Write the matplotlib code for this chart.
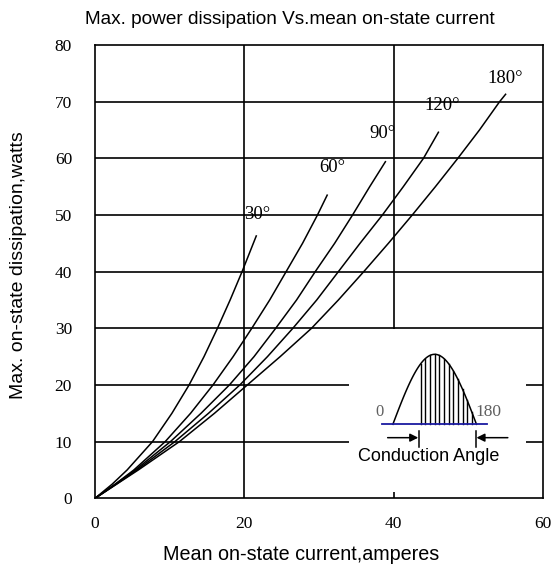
import numpy as np
import matplotlib
matplotlib.use("Agg")
import matplotlib.pyplot as plt
from matplotlib.patches import Rectangle

# curves: mean current (A) vs max dissipation (W)
curr_30 = [0, 2.3, 4.3, 7.7, 10.3, 12.6, 14.6, 16.4, 18.1, 19.7, 21.6]
pow_30 = [0, 2.5, 5, 10, 15, 20, 25, 30, 35, 40, 46.3]
curr_60 = [0, 2.7, 5.2, 9.4, 12.8, 15.8, 18.5, 21.0, 23.4, 25.6, 27.8, 29.8, 31.1]
pow_60 = [0, 2.5, 5, 10, 15, 20, 25, 30, 35, 40, 45, 50, 53.5]
curr_90 = [0, 2.75, 5.4, 10.1, 14.2, 18.0, 21.3, 24.2, 27.0, 29.5, 32.1, 34.5, 36.8, 38.9]
pow_90 = [0, 2.5, 5, 10, 15, 20, 25, 30, 35, 40, 45, 50, 55, 59.4]
curr_120 = [0, 2.85, 5.6, 10.7, 15.2, 19.4, 23.1, 26.5, 29.7, 32.6, 35.5, 38.5, 41.3, 44.0, 46.0]
pow_120 = [0, 2.5, 5, 10, 15, 20, 25, 30, 35, 40, 45, 50, 55, 60, 64.6]
curr_180 = [0, 2.9, 5.8, 11.3, 16.0, 20.4, 24.8, 29.0, 32.6, 36.0, 39.3, 42.5,
            45.6, 48.6, 51.5, 54.2, 55.0]
pow_180 = [0, 2.5, 5, 10, 15, 20, 25, 30, 35, 40, 45, 50, 55, 60, 65, 70, 71.3]

curve_labels = ["30°", "60°", "90°", "120°", "180°"]
label_pos = [(19.9, 50.0), (30.0, 58.4), (36.7, 64.3), (44.1, 69.4), (52.6, 74.0)]

x_ticks = [0, 20, 40, 60]
y_ticks = [0, 10, 20, 30, 40, 50, 60, 70, 80]

# inset (conduction angle sketch), in data units
base_y = 13.06
sine_x0, sine_w, sine_amp = 39.9, 11.2, 12.35
hatch_angles = [60, 70, 80, 90, 100, 110, 120, 130, 140, 150, 160, 170]

serif = "Liberation Serif"
sans = "Liberation Sans"

fig = plt.figure(figsize=(5.54, 5.68), dpi=100)
ax = fig.add_axes([0.1715, 0.1227, 0.8085, 0.7981])
ax.set_xlim(0, 60)
ax.set_ylim(0, 80)

for v in [20, 40]:
    ax.axvline(v, color="black", lw=1.2, zorder=1)
for v in y_ticks[1:-1]:
    ax.axhline(v, color="black", lw=1.2, zorder=1)

ax.add_patch(Rectangle((34, 1.2), 23.8, 28.6, facecolor="white",
                       edgecolor="none", zorder=2))

curves = [(curr_30, pow_30), (curr_60, pow_60), (curr_90, pow_90),
          (curr_120, pow_120), (curr_180, pow_180)]
for (cx, cy), lab, pos in zip(curves, curve_labels, label_pos):
    ax.plot(cx, cy, color="black", lw=1.1, zorder=3)
    ax.text(pos[0], pos[1], lab, family=serif, fontsize=13.5,
            ha="left", va="center", zorder=4)

# inset sketch
th = np.linspace(0, 180, 100)
ax.plot(sine_x0 + th / 180 * sine_w,
        base_y + sine_amp * np.sin(np.radians(th)), color="black", lw=1.1, zorder=4)
for a in hatch_angles:
    hx = sine_x0 + a / 180 * sine_w
    ax.plot([hx, hx], [base_y, base_y + sine_amp * np.sin(np.radians(a))],
            color="black", lw=1.0, zorder=4)
ax.plot([38.46, 52.57], [base_y, base_y], color="#1a1aa0", lw=1.3, zorder=5)
ax.text(38.1, 15.3, "0", family=serif, fontsize=12, color="#606060",
        ha="center", va="center", zorder=5)
ax.text(51.0, 15.3, "180", family=serif, fontsize=12.5, color="#606060",
        ha="left", va="center", zorder=5)
a_left = 43.4
a_right = sine_x0 + sine_w - 0.1
ax.plot([a_left, a_left], [9.0, 11.8], color="black", lw=1.1, zorder=5)
ax.plot([a_right, a_right], [9.0, 11.8], color="black", lw=1.1, zorder=5)
ax.annotate("", xy=(a_left - 0.1, 10.7), xytext=(39.2, 10.7),
            arrowprops=dict(arrowstyle="-|>", color="black", lw=1.1,
                            mutation_scale=12, shrinkA=0, shrinkB=0), zorder=5)
ax.annotate("", xy=(a_right + 0.1, 10.7), xytext=(55.3, 10.7),
            arrowprops=dict(arrowstyle="-|>", color="black", lw=1.1,
                            mutation_scale=12, shrinkA=0, shrinkB=0), zorder=5)
ax.text(44.7, 7.3, "Conduction Angle", family=sans, fontsize=13,
        ha="center", va="center", zorder=5)

ax.set_xticks(x_ticks)
ax.set_yticks(y_ticks)
ax.set_xticklabels([str(t) for t in x_ticks], family=serif, fontsize=12.5)
ax.set_yticklabels([str(t) for t in y_ticks], family=serif, fontsize=12.5)
ax.tick_params(axis="x", length=0, pad=13)
ax.tick_params(axis="y", length=0, pad=16.5)
for s in ax.spines.values():
    s.set_linewidth(1.2)

fig.text(0.5226, 0.9648, "Max. power dissipation Vs.mean on-state current",
         family=sans, fontsize=13.7, ha="center", va="center")
fig.text(0.543, 0.0229, "Mean on-state current,amperes",
         family=sans, fontsize=14.2, ha="center", va="center")
fig.text(0.0325, 0.5335, "Max. on-state dissipation,watts",
         family=sans, fontsize=14, ha="center", va="center", rotation=90)

fig.savefig("out.png", dpi=100)
